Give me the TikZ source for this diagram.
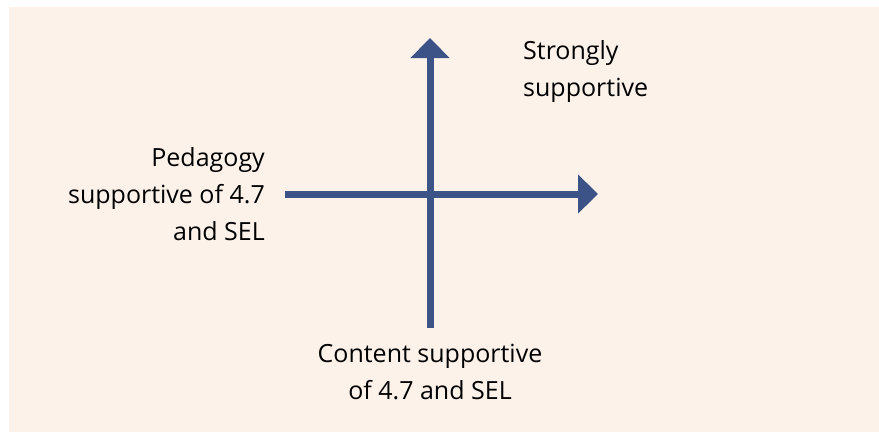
\documentclass[tikz,border=0pt]{standalone}
\usepackage{fontspec}
\setmainfont{Open Sans}
\usetikzlibrary{arrows.meta}
\definecolor{BgClr}{RGB}{252,242,234}
\definecolor{AxisClr}{RGB}{59,83,135}

\begin{document}
\begin{tikzpicture}[x=1pt,y=-1pt]
\tikzset{axis/.style={line width=7pt,color=AxisClr,-{Triangle[length=20pt,width=38pt]}},
  lbl/.style={inner sep=0pt,font=\fontsize{25}{37}\selectfont}}

\useasboundingbox (0,0) rectangle (879,432);
\fill[BgClr] (9,7) rectangle (879,432);

% Step 1. axes
\coordinate (O) at (430,194);
\coordinate (Xs) at (285,194);
\coordinate (Xe) at (598,194);
\coordinate (Ys) at (430,328);
\coordinate (Ye) at (430,38);
\draw[axis] (Xs) -- (Xe);
\draw[axis] (Ys) -- (Ye);

% Step 2. labels (base = last line)
\node[lbl,align=left,anchor=base west] (strong) at (523,96) {Strongly\\supportive};
\node[lbl,align=right,anchor=base east] (pedag) at (265,240) {Pedagogy\\supportive of 4.7\\and SEL};
\node[lbl,align=center,anchor=base] (content) at (430,399) {Content supportive\\of 4.7 and SEL};

\end{tikzpicture}
\end{document}
